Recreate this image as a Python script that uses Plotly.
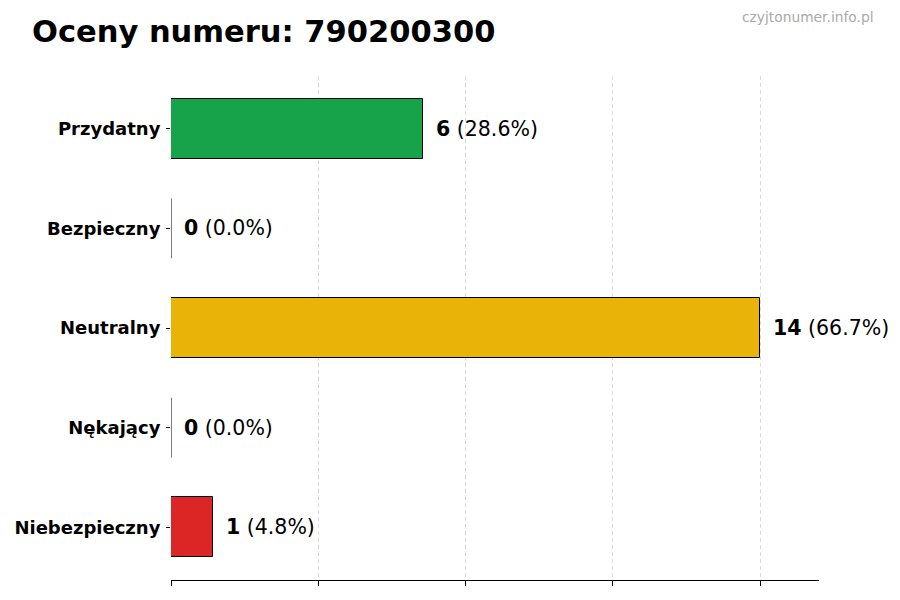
import plotly.graph_objects as go

# dane z wykresu
categories = ["Przydatny", "Bezpieczny", "Neutralny", "Nękający", "Niebezpieczny"]
counts = [6, 0, 14, 0, 1]
colors = ["#16a34a", "#9ca3af", "#eab308", "#f97316", "#dc2626"]
phone_number = "790200300"
watermark = "czyjtonumer.info.pl"

total = sum(counts)
positions = list(range(len(categories)))
bar_width = 0.6
font = "DejaVu Sans"

fig = go.Figure()

fig.add_trace(go.Bar(
    x=counts,
    y=positions,
    orientation="h",
    width=bar_width,
    marker=dict(color=colors, line=dict(color="black", width=1)),
    hoverinfo="skip",
))

# zerowe słupki - matplotlib rysuje samą krawędź
for pos, val in zip(positions, counts):
    if val == 0:
        fig.add_trace(go.Scatter(
            x=[val, val],
            y=[pos - bar_width / 2, pos + bar_width / 2],
            mode="lines",
            line=dict(color="black", width=1),
            hoverinfo="skip",
        ))

for pos, val in zip(positions, counts):
    pct = val / total * 100 if total else 0
    fig.add_annotation(
        x=val, y=pos,
        text=f"<b>{val}</b> ({pct:.1f}%)",
        showarrow=False,
        xanchor="left",
        xshift=11,
        font=dict(family=font, size=20.5, color="black"),
    )

fig.add_annotation(
    x=1.088, y=1.117, xref="paper", yref="paper",
    text=watermark, showarrow=False,
    xanchor="right", yanchor="middle",
    font=dict(family=font, size=13.8, color="#aaaaaa"),
)

# strona ma 8px marginesu body, więc wszystko przesunięte o 8px
fig.update_layout(
    width=900, height=600,
    margin=dict(l=163, r=89, t=68, b=28),
    plot_bgcolor="white", paper_bgcolor="white",
    showlegend=False,
    bargap=0,
    title=dict(
        text=f"<b>Oceny numeru: {phone_number}</b>",
        x=24 / 900, xanchor="left", xref="container",
        y=1 - 23 / 600, yanchor="middle", yref="container",
        font=dict(family=font, size=30.5, color="black"),
    ),
    xaxis=dict(
        range=[0, max(counts) * 1.1],
        dtick=3.5, tick0=0,
        showgrid=True, gridcolor="#dcdcdc", griddash="4px,3px", gridwidth=1,
        zeroline=False,
        showline=True, linecolor="black", linewidth=1.2,
        ticks="outside", ticklen=5, tickcolor="black",
        showticklabels=False,
        automargin=False,
    ),
    yaxis=dict(
        tickvals=positions, ticktext=[f"<b>{c}</b>" for c in categories],
        range=[len(categories) - 1 + 0.53, -0.53],
        showgrid=False, zeroline=False, showline=False,
        ticks="outside", ticklen=4, tickcolor="black",
        ticklabelstandoff=2,
        tickfont=dict(family=font, size=18, color="black"),
        automargin=False,
    ),
)

fig.write_html("out.html")
